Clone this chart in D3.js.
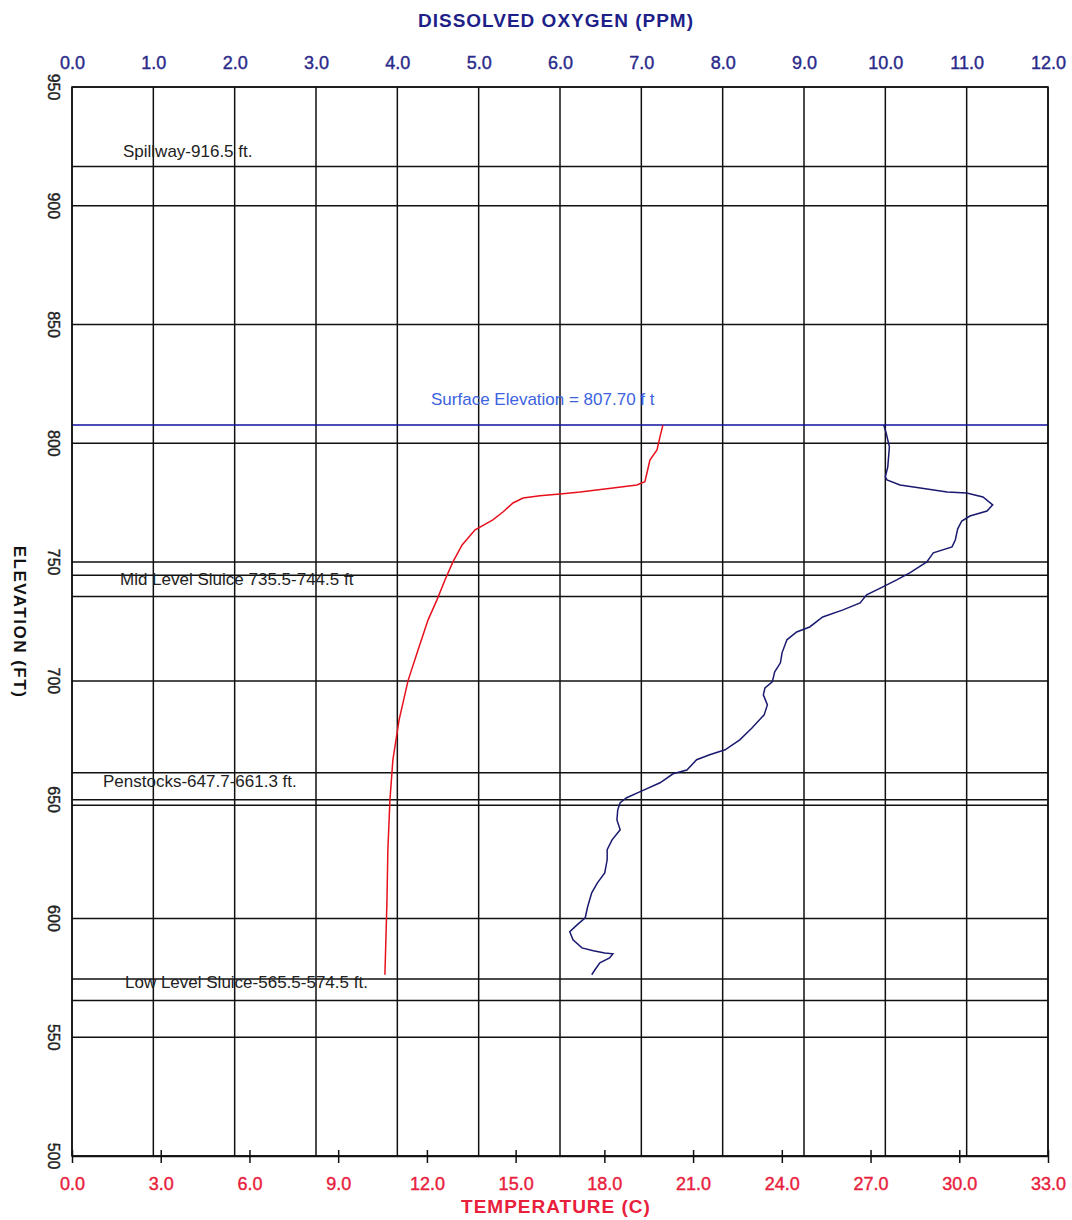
<!DOCTYPE html>
<html>
<head>
<meta charset="utf-8">
<script src="https://cdn.jsdelivr.net/npm/d3@7"></script>
<style>
  body { margin: 0; background: #fff; }
  svg text { font-family: "Liberation Sans", Arial, sans-serif; }
</style>
</head>
<body>
<div id="main"></div>
<script>
// DATA

// Axis ticks
var do_ticks = [0, 1, 2, 3, 4, 5, 6, 7, 8, 9, 10, 11, 12]
var temp_ticks = [0, 3, 6, 9, 12, 15, 18, 21, 24, 27, 30, 33]
var elev_ticks = [500, 550, 600, 650, 700, 750, 800, 850, 900, 950]

// Structure elevations (ft)
var surface_elev = 807.7
var structure_names = ['Spillway', 'Mid Level Sluice', 'Mid Level Sluice', 'Penstocks', 'Penstocks', 'Low Level Sluice', 'Low Level Sluice']
var structure_elevs = [916.5, 744.5, 735.5, 661.3, 647.7, 574.5, 565.5]
var structure_labels = ['Spillway-916.5 ft.', 'Mid Level Sluice 735.5-744.5 ft', 'Penstocks-647.7-661.3 ft.', 'Low Level Sluice-565.5-574.5 ft.']
var surface_label = 'Surface Elevation = 807.70 f t'

// Temperature profile (C) by elevation (ft)
var temp_elev = [807.7, 802.7, 797.2, 793.0, 787.5, 783.8, 782.5, 781.2, 779.5, 778.7, 777.9, 777.0, 774.9, 771.1, 767.8,
  763.6, 757.2, 750.1, 742.5, 734.1, 725.7, 713.0, 700.0, 683.6, 666.8, 649.9, 628.9, 607.8, 576.3]
var temp_vals = [19.98, 19.88, 19.78, 19.54, 19.44, 19.37, 19.10, 18.29, 17.18, 16.50, 15.82, 15.25, 14.91, 14.57, 14.23,
  13.63, 13.19, 12.88, 12.61, 12.34, 12.04, 11.70, 11.36, 11.06, 10.85, 10.75, 10.68, 10.65, 10.58]

// Dissolved oxygen profile (ppm) by elevation (ft)
var do_elev = [807.7, 804.4, 801.4, 798.5, 790.1, 785.9, 784.6, 782.5, 781.2, 779.5, 779.1, 777.4, 774.1, 771.5, 769.4,
  767.3, 764.0, 759.3, 756.4, 753.9, 750.1, 745.5, 742.5, 739.6, 736.2, 732.8, 729.9, 726.9, 722.7, 720.6,
  717.3, 711.8, 707.6, 703.8, 699.6, 697.0, 694.1, 689.9, 685.7, 680.2, 675.2, 671.0, 668.9, 666.8, 662.5,
  660.9, 657.1, 653.3, 650.8, 648.7, 645.7, 641.5, 637.3, 633.1, 628.9, 624.7, 619.2, 615.0, 610.8, 604.9,
  600.3, 597.3, 594.4, 591.0, 587.6, 586.4, 585.5, 585.1, 583.4, 581.3, 578.4, 576.3]
var do_vals = [9.98, 10.01, 10.03, 10.05, 10.03, 10.00, 10.02, 10.18, 10.43, 10.76, 11.00, 11.20, 11.32, 11.25, 11.04,
  10.94, 10.89, 10.86, 10.82, 10.59, 10.51, 10.30, 10.14, 9.97, 9.77, 9.69, 9.48, 9.23, 9.07, 8.91,
  8.79, 8.73, 8.71, 8.64, 8.61, 8.52, 8.50, 8.55, 8.51, 8.36, 8.21, 8.03, 7.84, 7.68, 7.56,
  7.39, 7.23, 6.98, 6.82, 6.74, 6.71, 6.70, 6.74, 6.64, 6.58, 6.58, 6.55, 6.46, 6.39, 6.34,
  6.31, 6.21, 6.12, 6.16, 6.27, 6.41, 6.55, 6.65, 6.61, 6.49, 6.43, 6.39]


// CHART

var width = 1072
var height = 1220
var plot = {left: 72, right: 1048, top: 87, bottom: 1156}

var svg = d3.select('#main').append('svg')
  .attr('width', width)
  .attr('height', height)

var y = d3.scaleLinear().domain([500, 950]).range([plot.bottom, plot.top])
var x_do = d3.scaleLinear().domain([0, 12]).range([plot.left, plot.right])
var x_temp = d3.scaleLinear().domain([0, 33]).range([plot.left, plot.right])

var grid_color = '#111'

// Vertical grid (one per DO tick)
svg.append('g').selectAll('line')
  .data(do_ticks)
  .join('line')
    .attr('x1', d => x_do(d)).attr('x2', d => x_do(d))
    .attr('y1', plot.top).attr('y2', plot.bottom)
    .attr('stroke', grid_color)
    .attr('stroke-width', 1.5)

// Horizontal grid (one per elevation tick)
svg.append('g').selectAll('line')
  .data(elev_ticks)
  .join('line')
    .attr('x1', plot.left).attr('x2', plot.right)
    .attr('y1', d => y(d)).attr('y2', d => y(d))
    .attr('stroke', grid_color)
    .attr('stroke-width', 1.5)

// Structure lines
svg.append('g').selectAll('line')
  .data(structure_elevs)
  .join('line')
    .attr('x1', plot.left).attr('x2', plot.right)
    .attr('y1', d => y(d)).attr('y2', d => y(d))
    .attr('stroke', grid_color)
    .attr('stroke-width', 1.5)

// Surface line
svg.append('line')
  .attr('x1', plot.left).attr('x2', plot.right)
  .attr('y1', y(surface_elev)).attr('y2', y(surface_elev))
  .attr('stroke', '#1010a0')
  .attr('stroke-width', 1.5)

// Structure labels (left edge and baseline in px)
var label_pos = [[123, 157], [120, 585], [103, 787], [125, 988]]
svg.append('g').selectAll('text')
  .data(structure_labels)
  .join('text')
    .attr('x', (d, i) => label_pos[i][0])
    .attr('y', (d, i) => label_pos[i][1])
    .text(d => d)
    .attr('fill', '#222')
    .style('font-size', '17px')

svg.append('text')
  .attr('x', 431).attr('y', 405)
  .text(surface_label)
  .attr('fill', '#3d63e0')
  .style('font-size', '17px')

// Profiles
var temp_line = d3.line()
  .x(d => x_temp(d[1]))
  .y(d => y(d[0]))
svg.append('path')
  .datum(d3.zip(temp_elev, temp_vals))
  .attr('d', temp_line)
  .attr('fill', 'none')
  .attr('stroke', '#e8101c')
  .attr('stroke-width', 1.5)

var do_line = d3.line()
  .x(d => x_do(d[1]))
  .y(d => y(d[0]))
svg.append('path')
  .datum(d3.zip(do_elev, do_vals))
  .attr('d', do_line)
  .attr('fill', 'none')
  .attr('stroke', '#1a1a70')
  .attr('stroke-width', 1.5)

// Top axis: dissolved oxygen
var top_axis = svg.append('g')
  .attr('transform', `translate(0,${plot.top})`)
  .call(d3.axisTop(x_do).tickValues(do_ticks).tickFormat(d3.format('.1f')).tickSize(0).tickPadding(18))
top_axis.select('.domain').remove()
top_axis.selectAll('text')
  .attr('fill', '#2a2a8a')
  .attr('stroke', '#2a2a8a')
  .attr('stroke-width', 0.4)
  .style('font-size', '18px')
  .style('font-family', '"Liberation Sans", Arial, sans-serif')

// Bottom axis: temperature
var bottom_axis = svg.append('g')
  .attr('transform', `translate(0,${plot.bottom})`)
  .call(d3.axisBottom(x_temp).tickValues(temp_ticks).tickFormat(d3.format('.1f')).tickSizeOuter(0).tickSizeInner(7).tickPadding(14))
bottom_axis.select('.domain').attr('stroke', grid_color).attr('stroke-width', 1.5)
bottom_axis.selectAll('.tick line').attr('y1', -6).attr('stroke', grid_color).attr('stroke-width', 1.5)
bottom_axis.selectAll('text')
  .attr('fill', '#e8203c')
  .attr('stroke', '#e8203c')
  .attr('stroke-width', 0.4)
  .style('font-size', '18px')
  .style('font-family', '"Liberation Sans", Arial, sans-serif')

// Left axis: elevation (labels rotated)
svg.append('g').selectAll('text')
  .data(elev_ticks)
  .join('text')
    .attr('transform', d => `translate(54,${y(d)}) rotate(90)`)
    .attr('text-anchor', 'middle')
    .attr('dy', '0.35em')
    .text(d => d)
    .attr('fill', '#222')
    .attr('stroke', '#222')
    .attr('stroke-width', 0.4)
    .style('font-size', '16px')

// Frame
svg.append('rect')
  .attr('x', plot.left).attr('y', plot.top)
  .attr('width', plot.right - plot.left).attr('height', plot.bottom - plot.top)
  .attr('fill', 'none')
  .attr('stroke', grid_color)
  .attr('stroke-width', 1.5)

// Axis titles
svg.append('text')
  .attr('x', 556).attr('y', 27)
  .attr('text-anchor', 'middle')
  .text('DISSOLVED OXYGEN (PPM)')
  .attr('fill', '#1f1f8a')
  .style('font-size', '19px')
  .style('font-weight', 'bold')
  .style('letter-spacing', '1px')

svg.append('text')
  .attr('x', 556).attr('y', 1213)
  .attr('text-anchor', 'middle')
  .text('TEMPERATURE (C)')
  .attr('fill', '#e8203c')
  .style('font-size', '19px')
  .style('font-weight', 'bold')
  .style('letter-spacing', '1px')

svg.append('text')
  .attr('transform', 'translate(20,622) rotate(90)')
  .attr('text-anchor', 'middle')
  .attr('dy', '0.35em')
  .text('ELEVATION (FT)')
  .attr('fill', '#111')
  .style('font-size', '17px')
  .style('font-weight', 'bold')
  .style('letter-spacing', '1.5px')
</script>
</body>
</html>
